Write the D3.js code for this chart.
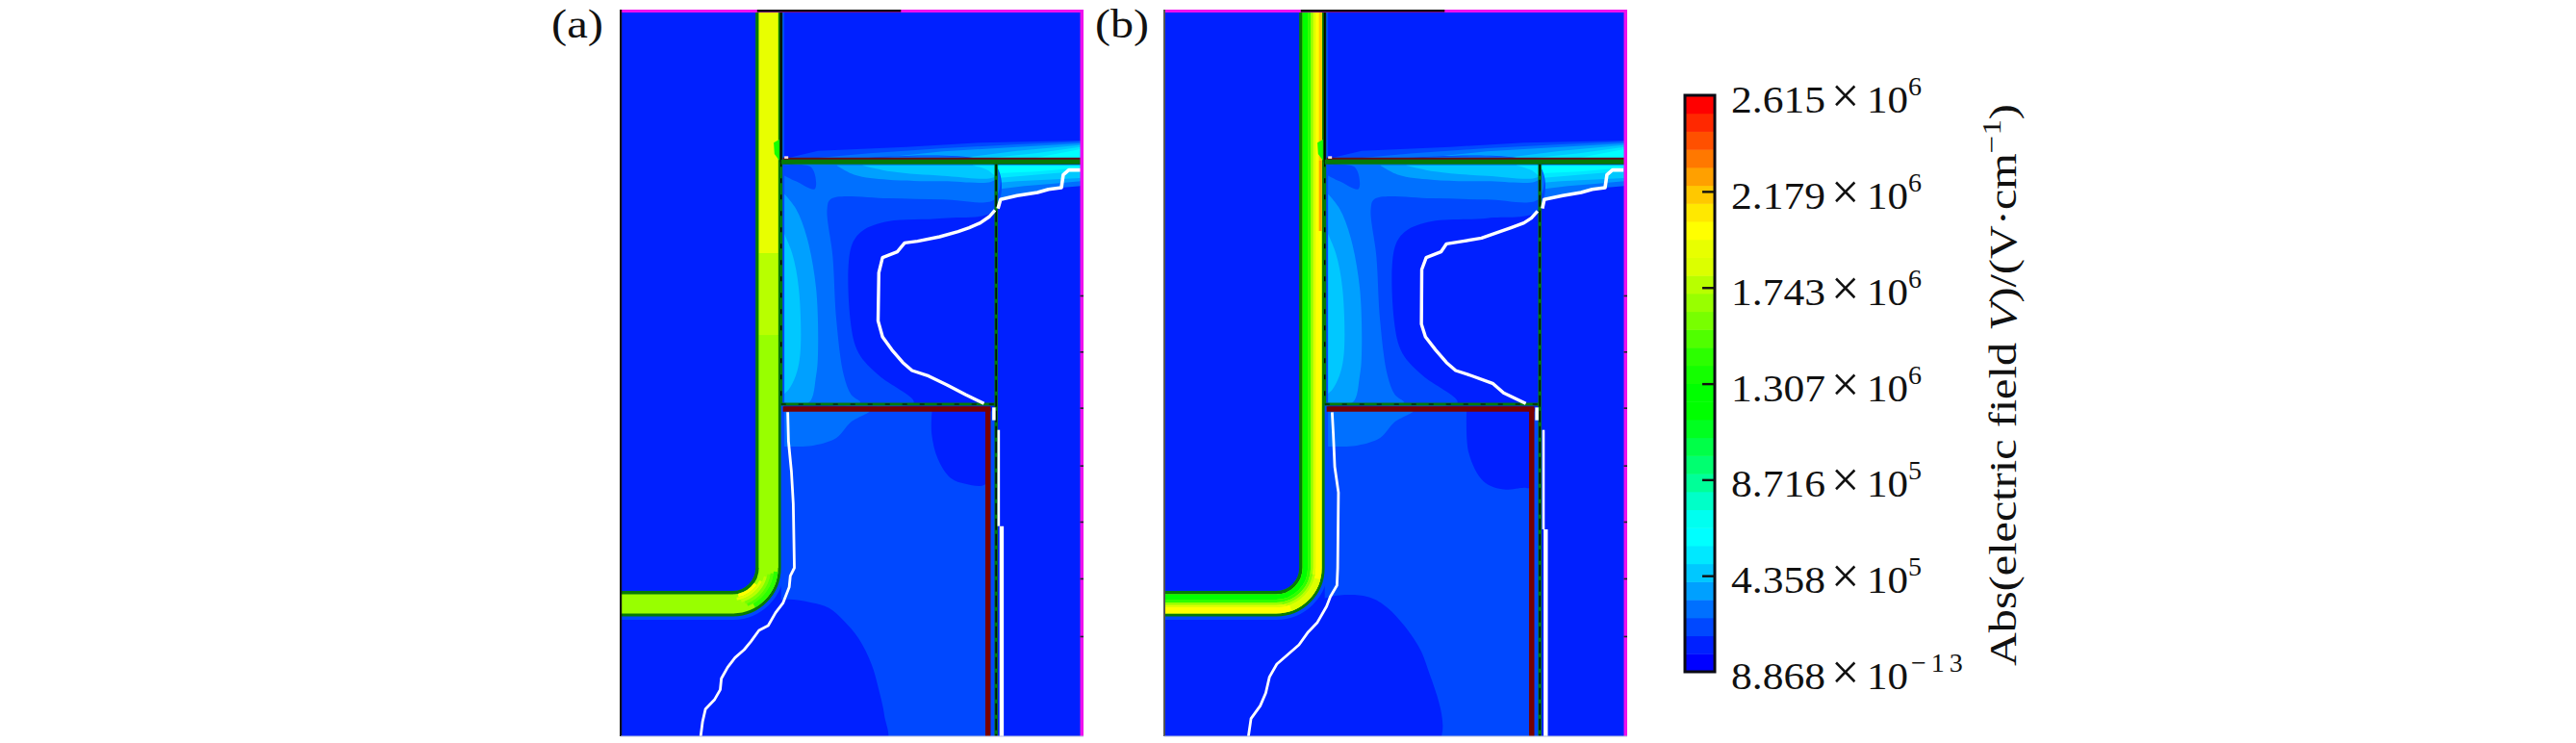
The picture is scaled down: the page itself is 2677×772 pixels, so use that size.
<!DOCTYPE html>
<html><head><meta charset="utf-8">
<script src="https://cdn.jsdelivr.net/npm/d3@7"></script>
<style>html,body{margin:0;padding:0;background:#fff;overflow:hidden}svg{display:block}text{font-family:"Liberation Serif",serif;fill:#111}</style>
</head><body><svg id="c" width="2677" height="772"></svg>
<script>
// ---- colour bar data ----
const fieldMin = 8.868e-13, fieldMax = 2.615e6;
const bandColors = ["#0000ff","#0020ff","#0048ff","#0070ff","#00a0ff","#00c8ff","#00e8ff","#00ffff","#00fff0","#00ffc8","#00ff98","#00ff70","#00ff48","#00ff20","#00ff00","#00ff00","#14ff00","#2cff00","#50ff00","#78ff00","#98ff00","#b8ff00","#dcff00","#e8ff00","#ffff00","#ffe800","#ffc800","#ffa000","#ff7800","#ff5000","#ff2800","#ff0000"];
const tickValues = [8.868e-13,4.358e5,8.716e5,1.307e6,1.743e6,2.179e6,2.615e6];
const tickMantissa = ["8.868","4.358","8.716","1.307","1.743","2.179","2.615"];
const tickExponent = ["\u221213","5","5","6","6","6","6"];
// ---- field levels (V/cm) ----
const L1=1.2e5,L2=2.0e5,L3=2.9e5,L4=3.7e5,L5=4.5e5,L6=5.3e5,L7=6.1e5,L14=1.18e6,L16=1.35e6,L17=1.43e6,L18=1.51e6,L19=1.6e6,L20=1.68e6,L21=1.76e6,L22=1.84e6,L23=1.92e6,L24=2.0e6,L26=2.16e6,L27=2.25e6;
// ---- contours, in device grid units ----
const glow2=[[680,492],[760,470],[1000,458],[1200,445],[1472,438],[1490,492]];
const glow3=[[760,492],[900,478],[1100,462],[1300,450],[1472,442],[1490,492]];
const glow4=[[930,492],[1100,472],[1300,458],[1472,447],[1490,492]];
const glow5=[[1150,492],[1300,470],[1472,452],[1490,492]];
const glow6=[[1230,492],[1350,478],[1472,458],[1490,492]];
const glow7=[[1350,492],[1472,465],[1490,492]];
const right3=[[1245,515],[1472,515],[1472,580],[1420,585],[1355,600],[1245,620]];
const right4=[[1245,515],[1472,515],[1472,565],[1400,572],[1320,580],[1245,590]];
const right5=[[1245,515],[1472,515],[1472,555],[1300,565],[1245,570]];
const right6=[[1245,515],[1472,515],[1472,535],[1400,540],[1300,550],[1245,555]];
const right7=[[1250,515],[1472,515],[1472,523],[1350,535],[1250,540]];
const mid2=[[665,515],[1240,515],[1240,655],[1100,680],[950,690],[880,720],[850,770],[848,1000],[870,1100],[925,1170],[1020,1255],[665,1255]];
const mid3=[[665,515],[1240,515],[1240,620],[1100,622],[950,618],[795,620],[785,650],[800,800],[810,1000],[830,1170],[850,1230],[875,1255],[665,1255]];
const mid4=[[665,600],[700,650],[730,740],[755,900],[760,1100],[755,1170],[735,1255],[665,1255]];
const mid5=[[665,720],[690,790],[708,900],[712,1100],[700,1170],[680,1215],[665,1230]];
const strip4=[[810,515],[860,545],[950,560],[1100,565],[1240,560],[1240,515]];
const strip5=[[880,515],[960,535],[1100,548],[1240,550],[1240,515]];
const strip6=[[1180,515],[1220,530],[1240,545],[1240,515]];
const blob2=[[665,515],[740,520],[755,570],[750,590],[700,565],[665,545]];
const lower2=[[660,1280],[1240,1280],[1240,2295],[660,2295]];
const lowerBlob3=[[665,1280],[900,1280],[850,1315],[810,1365],[750,1388],[690,1392],[665,1392]];
const lowerBlob1a=[[1070,1270],[1068,1350],[1085,1430],[1120,1490],[1160,1508],[1215,1508],[1215,1270]];
const lowerBlob1b=[[1045,1270],[1050,1410],[1090,1500],[1140,1525],[1200,1520],[1215,1520],[1215,1270]];
const footA=[[225,1915],[560,1915],[660,1870],[740,1878],[790,1895],[830,1935],[870,1990],[905,2070],[925,2150],[940,2230],[943,2320],[225,2320]];
const footB=[[225,1915],[560,1915],[675,1860],[775,1860],[825,1890],[895,1980],[935,2070],[965,2320],[225,2320]];
const oxideSpark=[[655,435],[640,445],[642,480],[655,500]];
// ---- white depletion lines, panel a ----
const whiteA1=[[1472,530],[1440,530],[1425,545],[1420,585],[1385,590],[1355,600],[1300,610],[1255,622],[1248,650]];
const whiteA2=[[1240,655],[1225,675],[1200,695],[1170,710],[1140,722],[1090,738],[1030,752],[995,757],[975,785],[935,803],[925,850],[923,1000],[935,1050],[960,1090],[990,1130],[1015,1155],[1060,1172],[1110,1200],[1160,1230],[1210,1258]];
const whiteA3=[[1237,1270],[1237,1310]];
const whiteA4=[[1250,1340],[1250,1640]];
const whiteA5=[[1258,1640],[1258,2295]];
const whiteA6=[[678,1285],[680,1375],[688,1470],[693,1570],[696,1770],[685,1795],[682,1830],[665,1880],[645,1910],[625,1950],[600,1965],[578,2000],[560,2025],[535,2050],[515,2080],[498,2115],[495,2150],[480,2180],[455,2210],[447,2250],[442,2295]];
// ---- white depletion lines, panel b ----
const whiteB1=[[1455,530],[1425,530],[1410,545],[1405,585],[1370,590],[1340,600],[1290,610],[1240,622],[1235,650]];
const whiteB2=[[1222,658],[1205,680],[1185,695],[1150,710],[1120,722],[1070,742],[1020,752],[975,760],[960,785],[920,803],[908,840],[907,1010],[918,1050],[945,1090],[975,1130],[1000,1155],[1040,1170],[1100,1195],[1130,1225],[1190,1258]];
const whiteB3=[[1220,1270],[1220,1310]];
const whiteB4=[[1238,1340],[1238,1650]];
const whiteB5=[[1244,1650],[1244,2295]];
const whiteB6=[[665,1285],[668,1350],[672,1455],[682,1535],[680,1770],[678,1825],[660,1860],[650,1890],[625,1940],[600,1970],[575,2010],[545,2040],[515,2070],[495,2110],[485,2160],[470,2200],[445,2240],[438,2295]];
// ---- right-edge tick marks ----
const edgeTicks=[920,1095,1270,1450,1625,1802,1982];
// ---- oxide sections: [y from, y to, level] and lateral stripes [r from, r to, level] ----
const oxideSectionsA=[[30,790,L23],[790,1045,L21],[1045,1770,L20]];
const cornerA=[[27.5,31,125,168,L24],[31,34,115,172,L22],[34,37,105,165,L21],[37,40,100,160,L19],[40,43,98,158,L18],[43,47.5,95,150,L17]];
const stripesB=[[27.5,33,L14],[33,36,L17],[36,38.5,L20],[38.5,41,L22],[41,47.5,L24]];
const stripesBupper=[[44.5,47.5,30,500,L26],[44.5,47.5,500,720,L27]];
const cornerB=[[41,47.5,105,160,L22],[38.5,41,100,165,L21],[36,38.5,100,170,L19]];

const svg=d3.select("#c");
const color=d3.scaleQuantize().domain([fieldMin,fieldMax]).range(bandColors);
const smooth=d3.curveCatmullRom.alpha(0.5);
const poly=(g,x,y,pts,v,curve)=>g.append("path").attr("d",d3.line().curve(curve||d3.curveLinear).x(d=>x(d[0])).y(d=>y(d[1]))(pts)+"Z").attr("fill",color(v));
const defs=svg.append("defs");
const y=d3.scaleLinear().domain([30,2295]).range([10,765]);

function panel(ox,id,isB){
  const pL=645+ox,pR=1126+ox,top=10,bottom=765;
  const x=d3.scaleLinear().domain([225,1480]).range([pL,pR]);
  const xw=isB?d3.scaleLinear().domain([210,1465]).range([pL,pR]):x;
  defs.append("clipPath").attr("id",id).append("rect").attr("x",pL).attr("y",top).attr("width",pR-pL).attr("height",bottom-top);
  const g=svg.append("g").attr("clip-path",`url(#${id})`);
  g.append("rect").attr("x",pL).attr("y",top).attr("width",pR-pL).attr("height",bottom-top).attr("fill",color(L1));
  [[glow2,L2],[glow3,L3],[glow4,L4],[glow5,L5],[glow6,L6],[glow7,L7],
   [right3,L3],[right4,L4],[right5,L5],[right6,L6],[right7,L7]].forEach(([p,v])=>poly(g,x,y,p,v));
  [[mid2,L2],[mid3,L3],[mid4,L4],[mid5,L5],[strip4,L4],[strip5,L5],[strip6,L6],[blob2,L2]].forEach(([p,v])=>poly(g,x,y,p,v,smooth));
  poly(g,x,y,lower2,L2);
  [[lowerBlob3,L3],[isB?lowerBlob1b:lowerBlob1a,L1],[isB?footB:footA,L1]].forEach(([p,v])=>poly(g,x,y,p,v,smooth));
  // gate oxide
  const cx=x(528),cy=y(1770),left=pL-4;
  const ox1=r=>{const p=d3.path();p.moveTo(cx+r,top-4);p.lineTo(cx+r,cy);p.arc(cx,cy,r,0,Math.PI/2);p.lineTo(left,cy+r);return p.toString();};
  const stroke=(r0,r1,c)=>g.append("path").attr("d",ox1((r0+r1)/2)).attr("fill","none").attr("stroke",c).attr("stroke-width",r1-r0);
  stroke(24,54,color(L2));
  stroke(24,50.5,"#067a06");
  stroke(27.5,47.5,color(L20));
  const ar=d3.arc();
  const deg=Math.PI/180;
  const corner=list=>list.forEach(([r0,r1,a0,a1,v])=>g.append("path").attr("transform",`translate(${cx},${cy})`).attr("d",ar({innerRadius:r0,outerRadius:r1,startAngle:a0*deg,endAngle:a1*deg})).attr("fill",color(v)));
  if(!isB){
    oxideSectionsA.forEach(([a,b,v])=>g.append("rect").attr("x",cx+27.5).attr("width",20).attr("y",y(a)).attr("height",y(b)-y(a)).attr("fill",color(v)));
    corner(cornerA);
  }else{
    stripesB.forEach(([a,b,v])=>stroke(a,b,color(v)));
    stripesBupper.forEach(([a,b,y0,y1,v])=>g.append("rect").attr("x",cx+a).attr("width",b-a).attr("y",y(y0)).attr("height",y(y1)-y(y0)).attr("fill",color(v)));
    corner(cornerB);
  }
  poly(g,x,y,oxideSpark,L16);
  // structure lines
  const ln=(x0,y0,x1,y1,c,w,dash)=>{const s=g.append("line").attr("x1",x(x0)).attr("y1",y(y0)).attr("x2",x(x1)).attr("y2",y(y1)).attr("stroke",c).attr("stroke-width",w);if(dash)s.attr("stroke-dasharray",dash);return s;};
  ln(660,30,660,1258,"#067a06",3);
  ln(660,30,660,505,"#050505",2);
  ln(660,505,660,1258,"#050505",1.4,"5 12");
  ln(665,495,1472,495,"#5a1020",2.5);
  ln(660,505,1472,505,"#067a06",5);
  ln(1472,500,1480,500,"#777",5);
  ln(1243,512,1243,2295,"#067a06",3.4);
  ln(1243,512,1243,2295,"#050505",1.4,"12 4");
  ln(660,1260,1240,1260,"#067a06",3);
  ln(660,1260,1240,1260,"#050505",1.2,"5 13");
  ln(665,1275,1228,1275,"#780000",5.5);
  ln(1221,1272,1221,2295,"#780000",5.5);
  g.append("rect").attr("x",x(669)).attr("y",y(487)).attr("width",4).attr("height",2.5).attr("fill","#ffe0e0");
  // white lines
  const wl=(p,w)=>g.append("path").attr("d",d3.line().x(d=>xw(d[0])).y(d=>y(d[1]))(p)).attr("fill","none").attr("stroke","#fff").attr("stroke-width",w).attr("stroke-linejoin","round");
  const W=isB?[whiteB1,whiteB2,whiteB3,whiteB4,whiteB5,whiteB6]:[whiteA1,whiteA2,whiteA3,whiteA4,whiteA5,whiteA6];
  [3.6,3.4,3.5,2.6,4.4,2.8].forEach((w,i)=>wl(W[i],w));
  // frame
  const F=svg.append("g");
  const mag="#ee10ee";
  F.append("rect").attr("x",pL).attr("y",top).attr("width",pR-pL).attr("height",3).attr("fill",mag);
  F.append("rect").attr("x",x(595)).attr("y",top).attr("width",x(985)-x(595)).attr("height",2.5).attr("fill","#050505");
  F.append("rect").attr("x",pR-3.5).attr("y",top).attr("width",3.5).attr("height",bottom-top).attr("fill",mag);
  F.append("rect").attr("x",pL-1).attr("y",top).attr("width",isB?2:2.2).attr("height",bottom-top).attr("fill",isB?"#555":"#111");
  F.selectAll(".t").data(edgeTicks).enter().append("rect").attr("x",pR-3.5).attr("width",3.5).attr("y",d=>y(d)).attr("height",1.6).attr("fill","#223");
  F.append("rect").attr("x",pL).attr("y",bottom-.5).attr("width",pR-pL).attr("height",1).attr("fill","#b8c2e0");
}
panel(0,"pa",false);
panel(565,"pb",true);

// stretch helper: keeps real text while matching the wide letterforms of the source
const fit=(sel,px,py,rot,len)=>sel.each(function(){const n=this.getComputedTextLength();d3.select(this).attr("transform",`translate(${px},${py})${rot?` rotate(${rot})`:""} scale(${len/n},1)`);});
fit(svg.append("text").attr("font-size",42).text("(a)"),573,39,0,54);
fit(svg.append("text").attr("font-size",42).text("(b)"),1138,39,0,56);

// colour bar
const barL=1751,barR=1782;
const yBar=d3.scaleLinear().domain([fieldMin,fieldMax]).range([698,99]);
const thr=[fieldMin,...color.thresholds(),fieldMax];
svg.append("g").selectAll("rect").data(bandColors).enter().append("rect")
  .attr("x",barL).attr("width",barR-barL).attr("y",(d,i)=>yBar(thr[i+1])).attr("height",(d,i)=>yBar(thr[i])-yBar(thr[i+1])+.5).attr("fill",d=>d);
svg.append("rect").attr("x",barL).attr("y",99).attr("width",barR-barL).attr("height",599).attr("fill","none").attr("stroke","#0a0a14").attr("stroke-width",3);
const inner=svg.append("g").attr("transform",`translate(${barR},0)`).call(d3.axisLeft(yBar).tickValues(tickValues.slice(1,6)).tickSize(13).tickFormat(""));
inner.select(".domain").remove();
inner.selectAll("line").attr("stroke","#111").attr("stroke-width",2.4);
const lab=svg.append("g").selectAll("g").data(tickValues).enter().append("g").attr("transform",d=>`translate(1799,${yBar(d)+18})`);
lab.append("text").attr("font-size",41).text((d,i)=>tickMantissa[i]).each(function(){const n=this.getComputedTextLength();d3.select(this).attr("transform",`scale(${98/n},1)`);});
lab.append("text").attr("x",104).attr("y",0).attr("font-size",52).text("\u00d7");
lab.append("text").attr("x",141).attr("font-size",41).text("10").each(function(){const n=this.getComputedTextLength();d3.select(this).attr("transform",`translate(141,0) scale(${43/n},1) translate(-141,0)`);});
lab.append("text").attr("x",(d,i)=>i==0?187:184).attr("y",-18).attr("font-size",28).attr("letter-spacing",(d,i)=>i==0?5:0).text((d,i)=>tickExponent[i]);

// rotated title
const t=svg.append("text").attr("font-size",41);
t.append("tspan").text("Abs(electric field ");
t.append("tspan").attr("font-style","italic").text("V");
t.append("tspan").text(")/(V\u00b7cm");
t.append("tspan").attr("dy",-16).attr("font-size",28).text("\u22121");
t.append("tspan").attr("dy",16).text(")");
fit(t,2095,692,-90,584);
</script></body></html>
